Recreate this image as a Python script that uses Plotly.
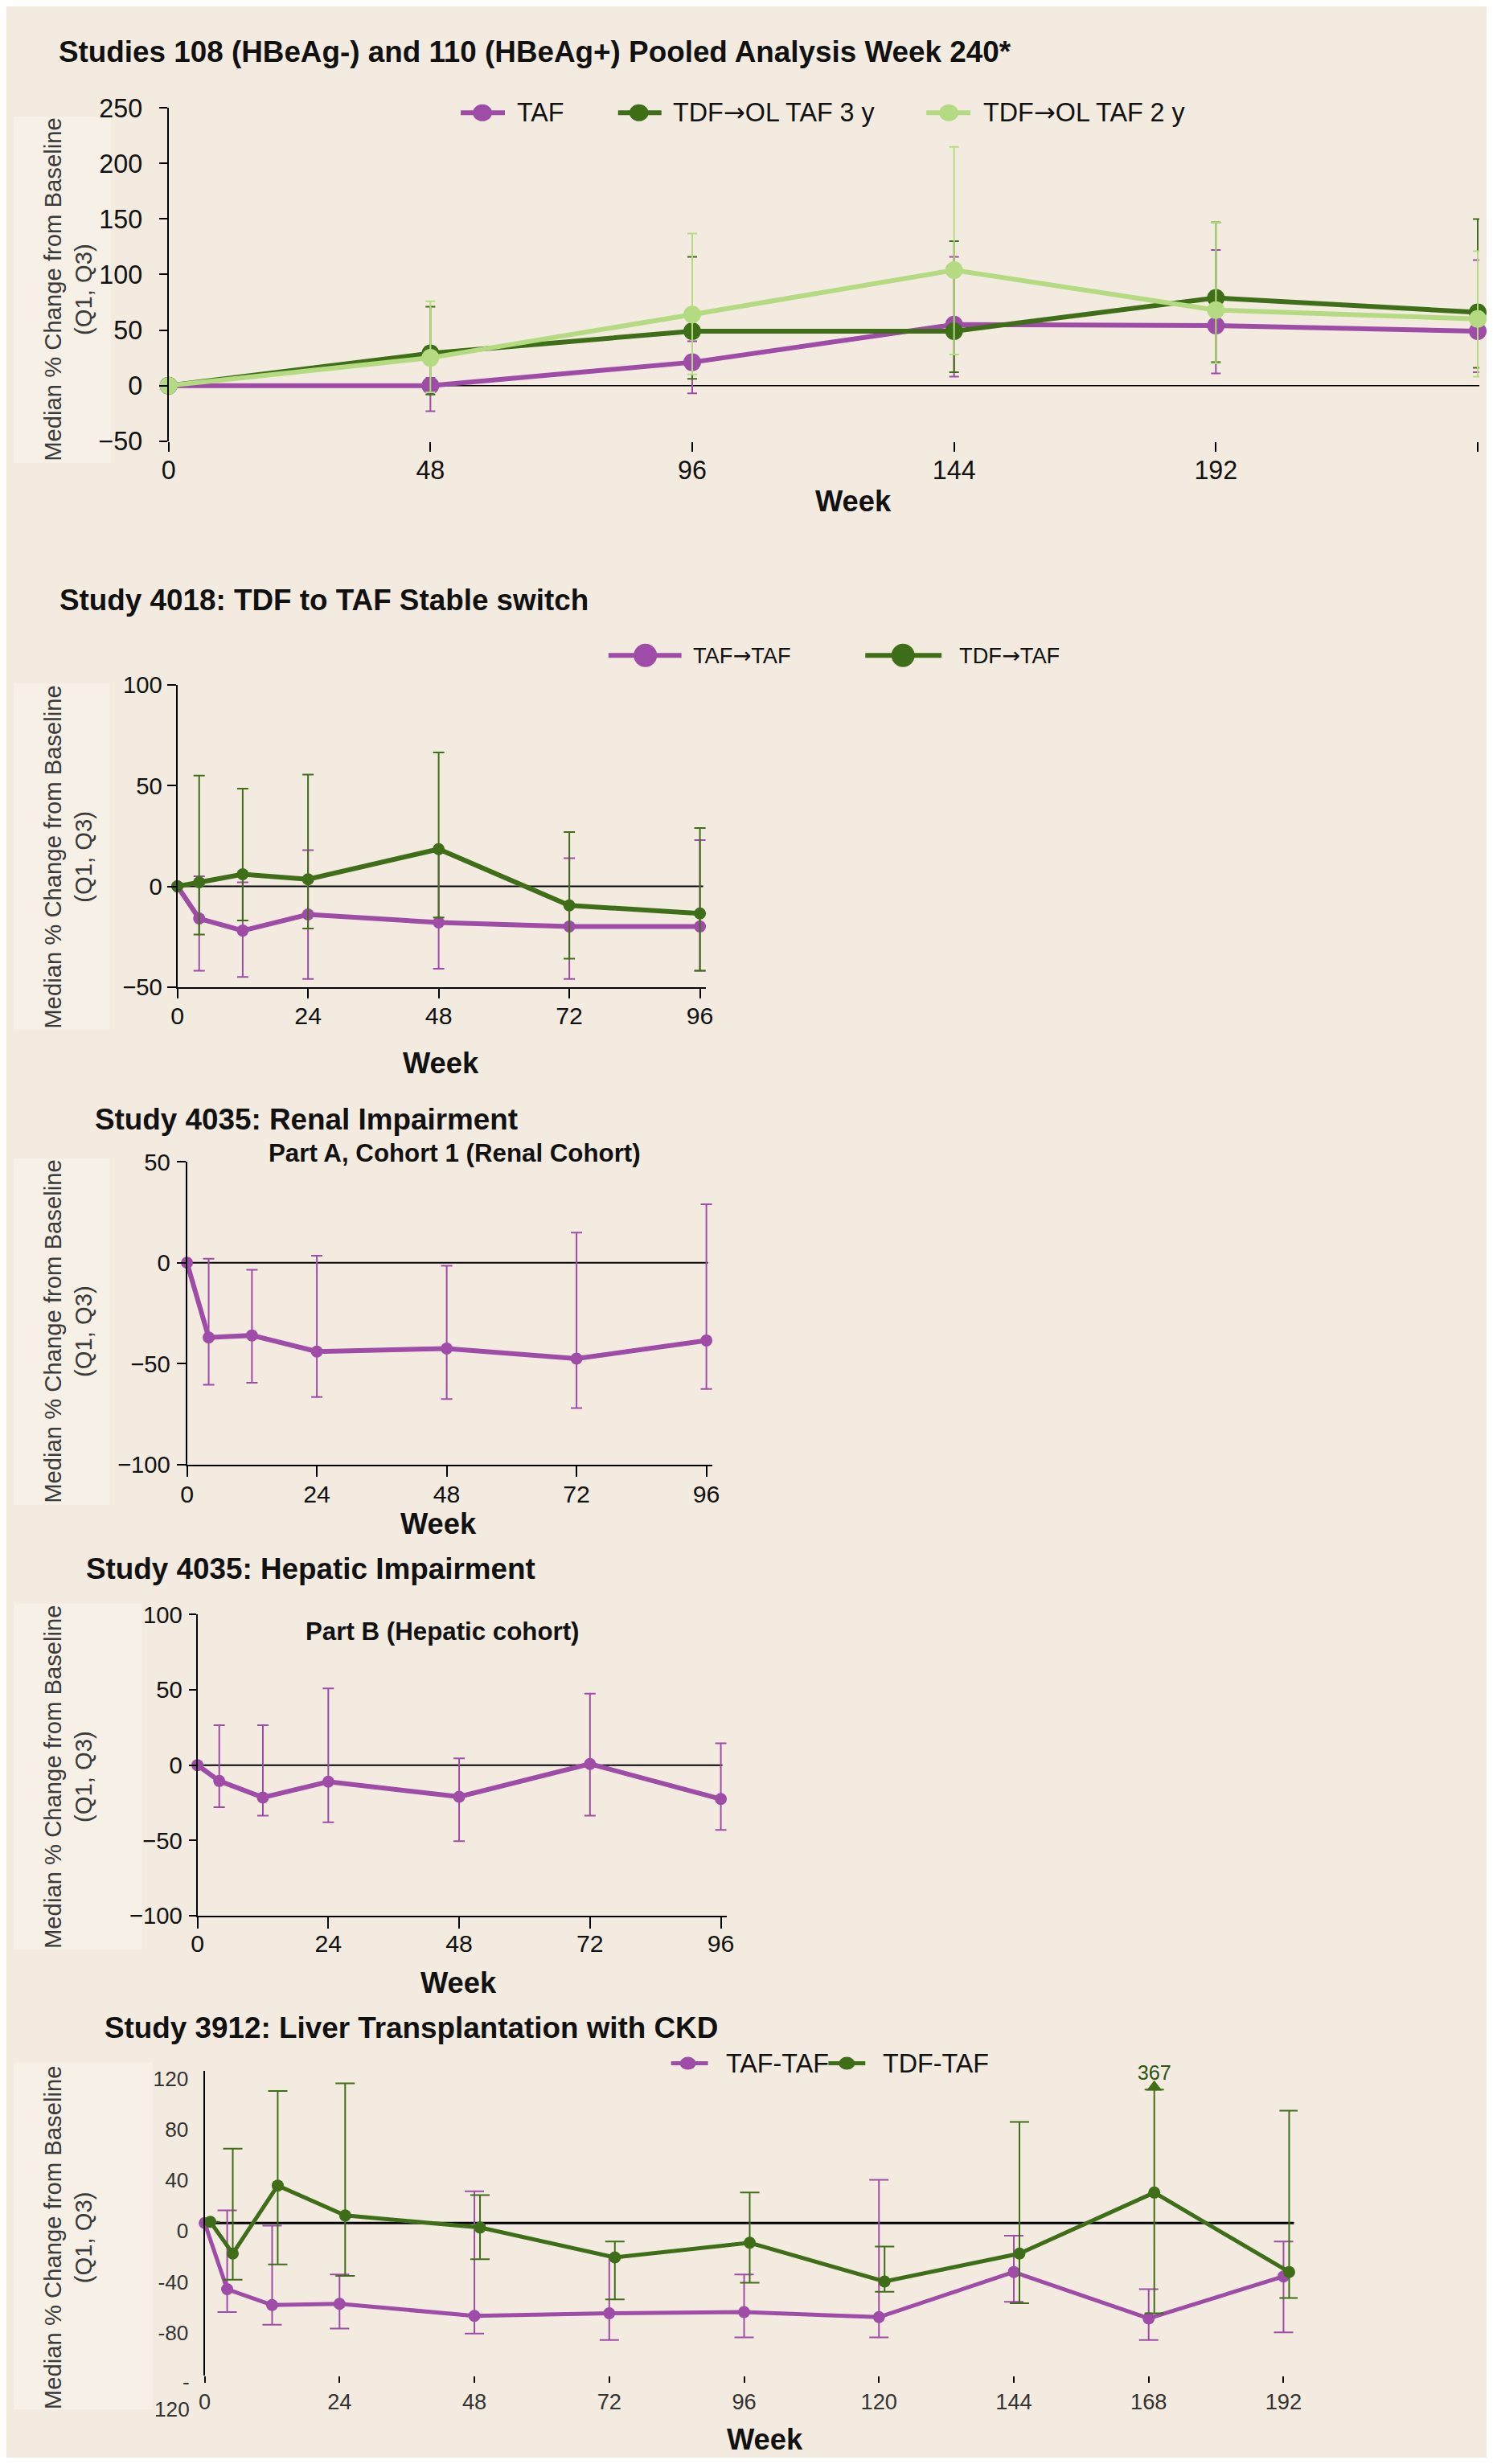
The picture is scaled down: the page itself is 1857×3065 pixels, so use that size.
import plotly.graph_objects as go

# Figure size chosen to fit inside the page's 8 px body margin.
PAGE_W, PAGE_H = 1857, 3065
OFF = 8
W, H = PAGE_W - 2 * OFF, PAGE_H - 2 * OFF
# measured rendering of this page: shown_x = SX * page_x + DX, shown_y = SY * page_y + DY
SX, DX = 0.9918, 8.1
SY, DY = 0.9897, 15.6
FS = 1 / 0.991   # font compensation for that rendering scale

BG = "#F3EBDF"
BOX = "#F6F0E7"
PURPLE = "#9E4CA8"
DKGREEN = "#3E6E17"
LTGREEN = "#B5DB82"
FONT = "Liberation Sans, Arial, sans-serif"
INK = "#111111"
LABEL_GREY = "#3a3a3a"
ARROW = '<span style="font-family:DejaVu Sans">\u2192</span>'

# ---------------- DATA ----------------
# Panel 1: Studies 108/110 pooled, week 240
p1_weeks = [0, 48, 96, 144, 192, 240]
p1_taf_med = [0, 0, 21, 55, 54, 49]
p1_taf_q1 = [0, -23, -7, 8, 11, 12]
p1_taf_q3 = [0, 7, 40, 116, 122, 113]
p1_tdf3_med = [0, 29, 49, 49, 79, 66]
p1_tdf3_q1 = [0, -8, 6, 12, 21, 16]
p1_tdf3_q3 = [0, 71, 116, 130, 147, 150]
p1_tdf2_med = [0, 25, 64, 104, 68, 60]
p1_tdf2_q1 = [0, -6, 10, 28, 20, 8]
p1_tdf2_q3 = [0, 76, 137, 215, 147, 121]
p1_names = ["TAF", "TDF" + ARROW + "OL TAF 3 y", "TDF" + ARROW + "OL TAF 2 y"]
p1_yticks = [-50, 0, 50, 100, 150, 200, 250]
p1_xticks = [0, 48, 96, 144, 192, 240]

# Panel 2: Study 4018
p2_weeks = [0, 4, 12, 24, 48, 72, 96]
p2_taf_med = [0, -16, -22, -14, -18, -20, -20]
p2_taf_q1 = [0, -42, -45, -46, -41, -46, -42]
p2_taf_q3 = [0, 5, 2, 18, 17, 14, 23]
p2_tdf_med = [0, 2, 6, 3.5, 18.5, -9.5, -13.5]
p2_tdf_q1 = [0, -24, -17, -21, -15.5, -36, -42]
p2_tdf_q3 = [0, 55, 48.5, 55.5, 66.5, 27, 29]
p2_names = ["TAF" + ARROW + "TAF", "TDF" + ARROW + "TAF"]
p2_yticks = [-50, 0, 50, 100]
p2_xticks = [0, 24, 48, 72, 96]

# Panel 3: Study 4035 renal
p3_weeks = [0, 4, 12, 24, 48, 72, 96]
p3_med = [0, -37, -36, -44, -42.5, -47.5, -38.5]
p3_q1 = [0, -60.5, -59.5, -66.5, -67.5, -72, -62.5]
p3_q3 = [0, 2, -3.5, 3.5, -1.5, 15, 29]
p3_yticks = [-100, -50, 0, 50]
p3_xticks = [0, 24, 48, 72, 96]

# Panel 4: Study 4035 hepatic
p4_weeks = [0, 4, 12, 24, 48, 72, 96]
p4_med = [0, -10.5, -21.5, -11, -21, 0.8, -22.5]
p4_q1 = [0, -28, -33.5, -38, -50.5, -33.5, -43]
p4_q3 = [0, 26.5, 26.5, 51, 4.5, 47.5, 14.5]
p4_yticks = [-100, -50, 0, 50, 100]
p4_xticks = [0, 24, 48, 72, 96]

# Panel 5: Study 3912
p5_weeks = [0, 4, 12, 24, 48, 72, 96, 120, 144, 168, 192]
p5_taf_med = [0, -52, -64.5, -63.5, -73, -71, -70, -74, -38.5, -75, -42]
p5_taf_q1 = [0, -70, -80, -83, -87, -92, -90, -90, -62, -92, -86]
p5_taf_q3 = [0, 10, -2, -40.5, 25, -25.5, -40.5, 34, -10, -52, -14.5]
p5_tdf_med = [1, -24, 29.5, 6, -3.5, -27, -15.5, -46, -24, 24, -38.5]
p5_tdf_q1 = [1, -44.5, -32.5, -41.5, -28.5, -60, -47, -54, -63, -71, -59]
p5_tdf_q3 = [1, 58.5, 104, 110, 22, -14.5, 24, -18.5, 79.5, 367, 88.5]
p5_names = ["TAF-TAF", "TDF-TAF"]
p5_yticks = [-120, -80, -40, 0, 40, 80, 120]
p5_yticktext = ["", "-80", "-40", "0", "40", "80", "120"]
p5_xticks = [0, 24, 48, 72, 96, 120, 144, 168, 192]
P5_YMAX = 120        # values above the axis top are off-scale
P5_CLIP = 105        # off-scale Q3 bars are drawn up to here with an arrow
P5_TDF_DODGE = 1     # TDF-TAF points drawn slightly to the right


# ---------------- helpers (target pixel -> paper fraction) ----------------
def fx(tx):
    return ((tx - DX) / SX - OFF) / W


def fy(ty):
    return 1 - ((ty - DY) / SY - OFF) / H


def clamp(v):
    return max(0.0, min(1.0, v))


def f(size):
    return size * FS


def errs(med, q1, q3, ymax=None, clip=None):
    plus, minus = [], []
    for m, a, b in zip(med, q1, q3):
        top = clip if (ymax is not None and b > ymax) else b
        plus.append(top - m if top != m else None)
        minus.append(m - a if m != a else None)
    return plus, minus


fig = go.Figure()


def add_series(x, med, q1, q3, color, xa, ya, lw, ms, capw, ethick=2, ymax=None, clip=None, name=None):
    plus, minus = errs(med, q1, q3, ymax, clip)
    fig.add_trace(go.Scatter(
        x=x, y=med, mode="lines+markers", name=name, showlegend=False,
        xaxis=xa, yaxis=ya, cliponaxis=False,
        line=dict(color=color, width=lw),
        marker=dict(color=color, size=ms),
        error_y=dict(type="data", symmetric=False, array=plus, arrayminus=minus,
                     color=color, thickness=ethick, width=capw),
        hoverinfo="skip",
    ))


# Panel 1
add_series(p1_weeks, p1_taf_med, p1_taf_q1, p1_taf_q3, PURPLE, "x", "y", 6, 22, 6, name=p1_names[0])
add_series(p1_weeks, p1_tdf3_med, p1_tdf3_q1, p1_tdf3_q3, DKGREEN, "x", "y", 6, 22, 6, name=p1_names[1])
add_series(p1_weeks, p1_tdf2_med, p1_tdf2_q1, p1_tdf2_q3, LTGREEN, "x", "y", 6, 22, 6, name=p1_names[2])

# Panel 2
add_series(p2_weeks, p2_taf_med, p2_taf_q1, p2_taf_q3, PURPLE, "x2", "y2", 6, 15, 7, name=p2_names[0])
add_series(p2_weeks, p2_tdf_med, p2_tdf_q1, p2_tdf_q3, DKGREEN, "x2", "y2", 6, 15, 7, name=p2_names[1])

# Panel 3
add_series(p3_weeks, p3_med, p3_q1, p3_q3, PURPLE, "x3", "y3", 6, 15, 7, name="TAF")

# Panel 4
add_series(p4_weeks, p4_med, p4_q1, p4_q3, PURPLE, "x4", "y4", 6, 15, 7, name="TAF")

# Panel 5
add_series(p5_weeks, p5_taf_med, p5_taf_q1, p5_taf_q3, PURPLE, "x5", "y5", 5, 15, 12, name=p5_names[0])
p5_tdf_x = [w + P5_TDF_DODGE for w in p5_weeks]
add_series(p5_tdf_x, p5_tdf_med, p5_tdf_q1, p5_tdf_q3, DKGREEN, "x5", "y5", 5, 15, 12,
           ymax=P5_YMAX, clip=P5_CLIP, name=p5_names[1])
off_x = [x for x, q in zip(p5_tdf_x, p5_tdf_q3) if q > P5_YMAX]
off_v = [q for q in p5_tdf_q3 if q > P5_YMAX]
# arrow head at the clipped end of the bar
fig.add_trace(go.Scatter(
    x=off_x, y=[P5_CLIP + 2] * len(off_x), mode="markers",
    marker=dict(symbol="triangle-up", size=17, color=DKGREEN),
    xaxis="x5", yaxis="y5", cliponaxis=False, showlegend=False, hoverinfo="skip",
))
# true value printed above the arrow
fig.add_trace(go.Scatter(
    x=off_x, y=[P5_CLIP + 12] * len(off_x), mode="text",
    text=[str(v) for v in off_v], textposition="middle center",
    textfont=dict(family=FONT, size=f(25), color="#2C5510"),
    xaxis="x5", yaxis="y5", cliponaxis=False, showlegend=False, hoverinfo="skip",
))


# ---------------- axes ----------------
def xax(l, r, rng, ticks, fsize, showline, ticklen, anchor, standoff=0):
    return dict(domain=[clamp(fx(l)), clamp(fx(r))], range=rng, tickvals=ticks, anchor=anchor,
                showgrid=False, zeroline=False, showline=showline, linecolor="black",
                linewidth=2, ticks="outside", ticklen=ticklen, tickwidth=2,
                tickcolor="black", ticklabelstandoff=standoff,
                tickfont=dict(family=FONT, size=f(fsize), color=INK))


def yax(t, b, rng, ticks, fsize, anchor, ticklen=10, standoff=2, **kw):
    d = dict(domain=[fy(b), fy(t)], range=rng, tickvals=ticks, anchor=anchor,
             showgrid=False, zeroline=False, showline=True, linecolor="black",
             linewidth=2, ticks="outside" if ticklen else "", ticklen=ticklen, tickwidth=2,
             tickcolor="black", ticklabelstandoff=standoff,
             tickfont=dict(family=FONT, size=f(fsize), color=INK))
    d.update(kw)
    return d


T_RIGHT = SX * (W + OFF) + DX          # right edge of the figure in target pixels
P1_X240 = T_RIGHT - 2                  # week 240 sits right at the picture's edge
P1_PPW = (P1_X240 - 209) / 240
P1_XEND = (T_RIGHT - 209) / P1_PPW
P2_PPW = (871 - 220) / 96
P3_PPW = (879 - 232) / 96
P4_PPW = (897 - 245) / 96
P5_PPW = (1598 - 254) / 192

layout = dict(
    width=W, height=H, margin=dict(l=0, r=0, t=0, b=0),
    paper_bgcolor=BG, plot_bgcolor=BG, showlegend=False,
    font=dict(family=FONT, color=INK),
    xaxis=xax(209, T_RIGHT, [0, P1_XEND], p1_xticks, 32, False, 12, "y", -4),
    yaxis=yax(132, 547, [-50, 250], p1_yticks, 32, "x", 10, 14),
    xaxis2=xax(220, 220 + 97.1 * P2_PPW, [0, 97.1], p2_xticks, 30, True, 12, "y2", -4),
    yaxis2=yax(851, 1227, [-50, 100], p2_yticks, 29, "x2", 11, 0),
    xaxis3=xax(232, 232 + 97.1 * P3_PPW, [0, 97.1], p3_xticks, 30, True, 13, "y3", -4),
    yaxis3=yax(1445, 1822, [-100, 50], p3_yticks, 29, "x3", 11, 2),
    xaxis4=xax(245, 245 + 97.1 * P4_PPW, [0, 97.1], p4_xticks, 30, True, 14, "y4", -7),
    yaxis4=yax(2009, 2384, [-100, 100], p4_yticks, 29, "x4", 9, 2),
    xaxis5=xax(254, 254 + 194.5 * P5_PPW, [0, 194.5], p5_xticks, 27, False, 8, "y5", 0),
    yaxis5=yax(2577, 2957, [-120, 120], p5_yticks, 26, "x5", 0, 13,
               tickmode="array", ticktext=p5_yticktext, ticklabelshift=10),
)
layout["xaxis5"]["tickfont"]["color"] = "#333333"
layout["yaxis5"]["tickfont"]["color"] = "#333333"
fig.update_layout(**layout)

shapes = []
annotations = []

# background boxes behind y titles
for (x0, y0, x1, y1) in [(0, 143, 137, 574), (0, 849, 136, 1280), (0, 1441, 136, 1872),
                         (0, 1995, 176, 2426), (0, 2567, 189, 2999)]:
    shapes.append(dict(type="rect", xref="paper", yref="paper", x0=clamp(fx(x0)), x1=fx(x1),
                       y0=fy(y1), y1=fy(y0), fillcolor=BOX, line=dict(width=0), layer="below"))

# zero reference lines
for (ya, xl, xr, lw) in [("y", 209, PAGE_W, 1.5), ("y2", 220, 875, 2), ("y3", 232, 881, 2),
                         ("y4", 245, 899, 2), ("y5", 254, 1611, 3)]:
    shapes.append(dict(type="line", xref="paper", yref=ya, x0=fx(xl), x1=clamp(fx(xr)), y0=0, y1=0,
                       line=dict(color="black", width=lw), layer="below"))


# custom legends
def legend_item(cx, cy, x0, x1, mw, mh, lw, color, text, tx, fsize):
    shapes.append(dict(type="line", xref="paper", yref="paper", x0=fx(x0), x1=fx(x1),
                       y0=fy(cy), y1=fy(cy), line=dict(color=color, width=lw)))
    shapes.append(dict(type="circle", xref="paper", yref="paper",
                       x0=fx(cx - mw / 2), x1=fx(cx + mw / 2), y0=fy(cy + mh / 2), y1=fy(cy - mh / 2),
                       fillcolor=color, line=dict(color=color, width=0)))
    annotations.append(dict(xref="paper", yref="paper", x=fx(tx), y=fy(cy), text=text,
                            xanchor="left", yanchor="middle", showarrow=False,
                            font=dict(family=FONT, size=f(fsize), color=INK)))


p1_cols = [PURPLE, DKGREEN, LTGREEN]
for name, col, (lx0, lx1, mx, tx) in zip(p1_names, p1_cols,
                                          [(573, 628, 600, 641), (769, 823, 795, 835),
                                           (1153, 1208, 1181, 1222)]):
    legend_item(mx, 138, lx0, lx1, 24, 21, 6, col, name, tx, 32)

for name, col, (lx0, lx1, mx, tx) in zip(p2_names, [PURPLE, DKGREEN],
                                          [(757, 848, 803, 860), (1077, 1172, 1124, 1192)]):
    legend_item(mx, 814, lx0, lx1, 29, 29, 6, col, name, tx, 27)

for name, col, (lx0, lx1, mx, tx) in zip(p5_names, [PURPLE, DKGREEN],
                                          [(835, 881, 856, 901), (1031, 1077, 1054, 1097)]):
    legend_item(mx, 2568, lx0, lx1, 20, 16, 5, col, name, tx, 32)


def text(x, y, s, size, bold=False, xanchor="left", color=INK, angle=0, align="left"):
    annotations.append(dict(xref="paper", yref="paper", x=fx(x), y=fy(y),
                            text=f"<b>{s}</b>" if bold else s, xanchor=xanchor, yanchor="middle",
                            showarrow=False, textangle=angle, align=align,
                            font=dict(family=FONT, size=f(size), color=color)))


# titles
text(70, 62, "Studies 108 (HBeAg-) and 110 (HBeAg+) Pooled Analysis Week 240*", 36.5, True)
text(71, 745, "Study 4018: TDF to TAF Stable switch", 36.5, True)
text(115, 1392, "Study 4035: Renal Impairment", 36.5, True)
text(565, 1434, "Part A, Cohort 1 (Renal Cohort)", 31, True, "center")
text(104, 1952, "Study 4035: Hepatic Impairment", 36.5, True)
text(550, 2030, "Part B (Hepatic cohort)", 31, True, "center")
text(127, 2524, "Study 3912: Liver Transplantation with CKD", 36.5, True)

# x titles
for (x, y) in [(1062, 622), (548, 1322), (545, 1896), (570, 2468), (952, 3037)]:
    text(x, y, "Week", 36, True, "center")

# y titles
for yc in [358, 1065, 1656, 2211, 2785]:
    text(84, yc, "Median % Change from Baseline<br>(Q1, Q3)", 29, False, "center",
         LABEL_GREY, -90, "center")

# wrapped -120 tick label of panel 5
annotations.append(dict(xref="paper", yref="paper", x=fx(237), y=fy(2982), text="-<br>120",
                        xanchor="right", yanchor="middle", showarrow=False, align="right",
                        font=dict(family=FONT, size=f(26), color="#333333")))

fig.update_layout(shapes=shapes, annotations=annotations)
fig.write_html("out.html")
